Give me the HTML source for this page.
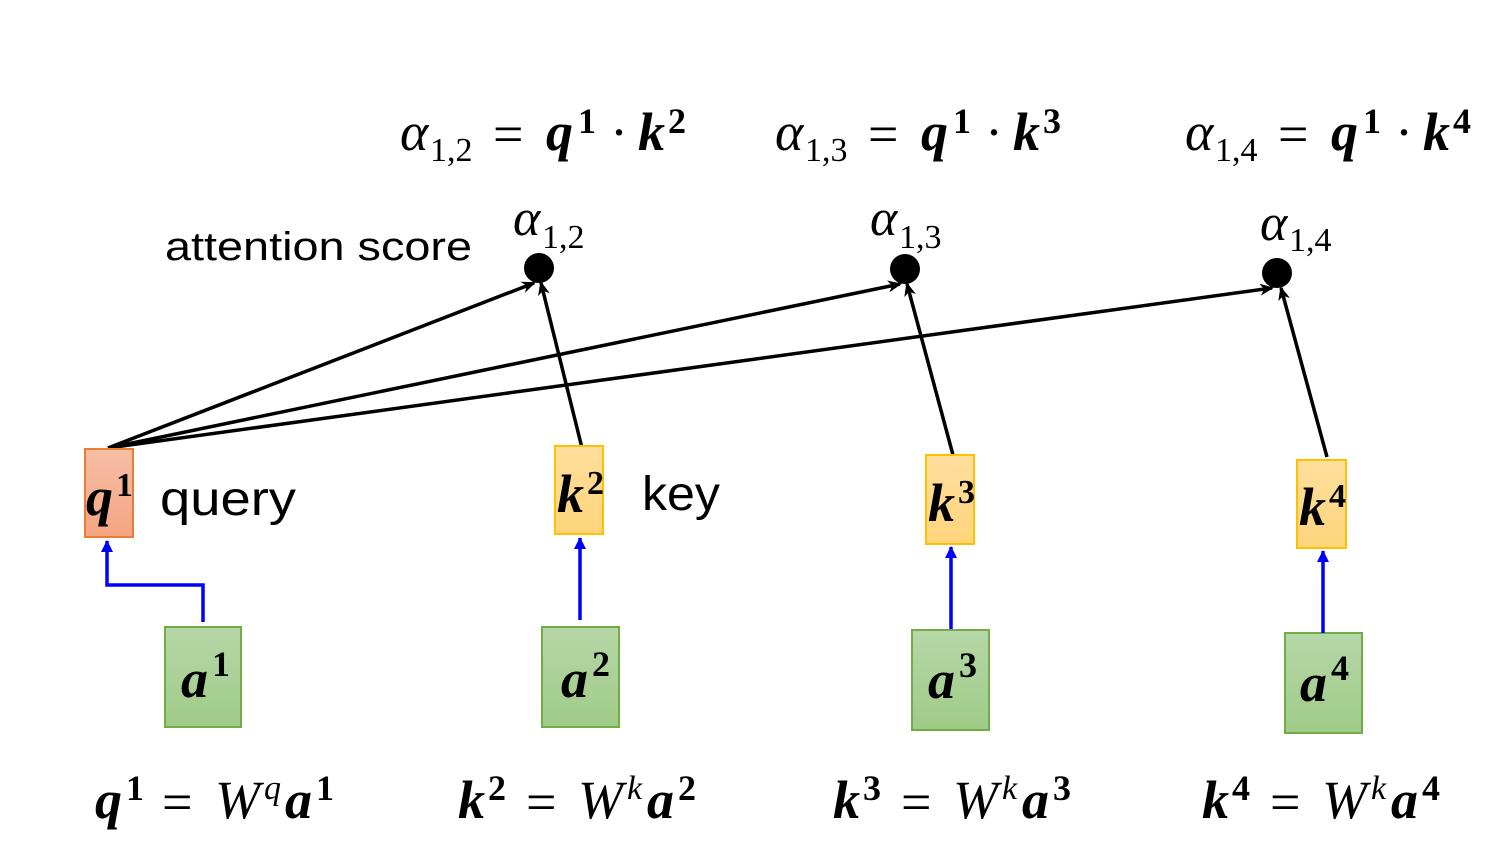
<!DOCTYPE html>
<html><head><meta charset="utf-8"><style>
html,body{margin:0;padding:0;background:#fff;}
svg{display:block;}
.m{font-family:"Liberation Serif",serif;font-style:italic;}
.b{font-family:"Liberation Serif",serif;font-style:italic;font-weight:bold;}
.r{font-family:"Liberation Serif",serif;}
.s{font-family:"Liberation Sans",sans-serif;}
</style></head><body>
<svg width="1497" height="863" viewBox="0 0 1497 863" xmlns="http://www.w3.org/2000/svg">
<defs>
<linearGradient id="go" x1="0" y1="0" x2="0" y2="1"><stop offset="0" stop-color="#f6bea6"/><stop offset="1" stop-color="#f4a582"/></linearGradient>
<linearGradient id="gy" x1="0" y1="0" x2="0" y2="1"><stop offset="0" stop-color="#ffdf9e"/><stop offset="1" stop-color="#ffd47c"/></linearGradient>
<linearGradient id="gg" x1="0" y1="0" x2="0" y2="1"><stop offset="0" stop-color="#b6d7a8"/><stop offset="1" stop-color="#9fcb87"/></linearGradient>
<marker id="ab" markerWidth="14" markerHeight="12" refX="12" refY="6" orient="auto" markerUnits="userSpaceOnUse"><path d="M0,0 L14,6 L0,12 L4,6 z" fill="#000"/></marker>
<marker id="bb" markerWidth="12" markerHeight="12" refX="11" refY="6" orient="auto" markerUnits="userSpaceOnUse"><path d="M0,0 L12,6 L0,12 z" fill="#0000ff"/></marker>
</defs>

<!-- top equations -->
<g font-size="54">
<text x="400" y="150" class="m">α</text><text x="430" y="161" class="r" font-size="34">1,2</text><text x="493" y="152" class="r">=</text><text x="546" y="150" class="b">q</text><text x="578" y="133" class="r" font-weight="bold" font-size="36">1</text><text x="610" y="150" class="r">·</text><text x="638" y="150" class="b">k</text><text x="668" y="133" class="r" font-weight="bold" font-size="36">2</text>
<text x="775" y="150" class="m">α</text><text x="805" y="161" class="r" font-size="34">1,3</text><text x="868" y="152" class="r">=</text><text x="921" y="150" class="b">q</text><text x="953" y="133" class="r" font-weight="bold" font-size="36">1</text><text x="985" y="150" class="r">·</text><text x="1013" y="150" class="b">k</text><text x="1043" y="133" class="r" font-weight="bold" font-size="36">3</text>
<text x="1185" y="150" class="m">α</text><text x="1215" y="161" class="r" font-size="34">1,4</text><text x="1278" y="152" class="r">=</text><text x="1331" y="150" class="b">q</text><text x="1363" y="133" class="r" font-weight="bold" font-size="36">1</text><text x="1395" y="150" class="r">·</text><text x="1423" y="150" class="b">k</text><text x="1453" y="133" class="r" font-weight="bold" font-size="36">4</text>
</g>

<!-- dot labels -->
<text x="513" y="235" class="m" font-size="52">α</text><text x="542" y="248" class="r" font-size="34">1,2</text>
<text x="870" y="235" class="m" font-size="52">α</text><text x="899" y="248" class="r" font-size="34">1,3</text>
<text x="1260" y="240" class="m" font-size="52">α</text><text x="1289" y="251" class="r" font-size="34">1,4</text>

<text x="165" y="260" class="s" font-size="40" textLength="307" lengthAdjust="spacingAndGlyphs">attention score</text>

<!-- black lines -->
<g stroke="#000" stroke-width="3.5" fill="none">
<line x1="108" y1="448" x2="534" y2="283" marker-end="url(#ab)"/>
<line x1="108" y1="448" x2="900" y2="284" marker-end="url(#ab)"/>
<line x1="108" y1="448" x2="1272" y2="288" marker-end="url(#ab)"/>
<line x1="583" y1="452" x2="541" y2="283" marker-end="url(#ab)"/>
<line x1="953" y1="455" x2="907" y2="284" marker-end="url(#ab)"/>
<line x1="1327" y1="457" x2="1281" y2="288" marker-end="url(#ab)"/>
</g>
<circle cx="539" cy="268" r="15" fill="#000"/>
<circle cx="905" cy="269" r="15" fill="#000"/>
<circle cx="1277" cy="273" r="15" fill="#000"/>

<!-- boxes -->
<rect x="85" y="449" width="48" height="88" fill="url(#go)" stroke="#ed7d31" stroke-width="2"/>
<rect x="555" y="446" width="48" height="88" fill="url(#gy)" stroke="#ffc000" stroke-width="2"/>
<rect x="926" y="455" width="48" height="89" fill="url(#gy)" stroke="#ffc000" stroke-width="2"/>
<rect x="1297" y="460" width="49" height="88" fill="url(#gy)" stroke="#ffc000" stroke-width="2"/>
<rect x="165" y="627" width="76" height="100" fill="url(#gg)" stroke="#70ad47" stroke-width="2"/>
<rect x="542" y="627" width="77" height="100" fill="url(#gg)" stroke="#70ad47" stroke-width="2"/>
<rect x="912" y="630" width="77" height="100" fill="url(#gg)" stroke="#70ad47" stroke-width="2"/>
<rect x="1285" y="633" width="77" height="100" fill="url(#gg)" stroke="#70ad47" stroke-width="2"/>

<!-- box labels -->
<g font-size="54">
<text x="86" y="515" class="b">q</text><text x="116" y="496" class="r" font-weight="bold" font-size="34">1</text>
<text x="557" y="512" class="b">k</text><text x="587" y="494" class="r" font-weight="bold" font-size="34">2</text>
<text x="928" y="521" class="b">k</text><text x="958" y="503" class="r" font-weight="bold" font-size="34">3</text>
<text x="1299" y="525" class="b">k</text><text x="1329" y="507" class="r" font-weight="bold" font-size="34">4</text>
<text x="181" y="697" class="b">a</text><text x="212" y="676" class="r" font-weight="bold" font-size="36">1</text>
<text x="561" y="697" class="b">a</text><text x="592" y="676" class="r" font-weight="bold" font-size="36">2</text>
<text x="928" y="698" class="b">a</text><text x="959" y="677" class="r" font-weight="bold" font-size="36">3</text>
<text x="1300" y="701" class="b">a</text><text x="1331" y="680" class="r" font-weight="bold" font-size="36">4</text>
</g>

<text x="160" y="515" class="s" font-size="48" textLength="136" lengthAdjust="spacingAndGlyphs">query</text>
<text x="642" y="510" class="s" font-size="48" textLength="78" lengthAdjust="spacingAndGlyphs">key</text>

<!-- blue arrows -->
<g stroke="#0000ff" stroke-width="3.5" fill="none">
<polyline points="203,622 203,585 107,585 107,541" marker-end="url(#bb)"/>
<line x1="580" y1="620" x2="580" y2="538" marker-end="url(#bb)"/>
<line x1="951" y1="629" x2="951" y2="547" marker-end="url(#bb)"/>
<line x1="1323" y1="633" x2="1323" y2="551" marker-end="url(#bb)"/>
</g>

<!-- bottom equations -->
<g font-size="54">
<text x="95" y="818" class="b">q</text><text x="126" y="800" class="r" font-weight="bold" font-size="36">1</text><text x="162" y="820" class="r">=</text><text x="215" y="818" class="m">W</text><text x="264" y="799" class="m" font-size="34">q</text><text x="285" y="818" class="b">a</text><text x="316" y="800" class="r" font-weight="bold" font-size="36">1</text>
<text x="458" y="818" class="b">k</text><text x="488" y="800" class="r" font-weight="bold" font-size="36">2</text><text x="526" y="820" class="r">=</text><text x="578" y="818" class="m">W</text><text x="627" y="799" class="m" font-size="34">k</text><text x="647" y="818" class="b">a</text><text x="678" y="800" class="r" font-weight="bold" font-size="36">2</text>
<text x="833" y="818" class="b">k</text><text x="863" y="800" class="r" font-weight="bold" font-size="36">3</text><text x="901" y="820" class="r">=</text><text x="953" y="818" class="m">W</text><text x="1002" y="799" class="m" font-size="34">k</text><text x="1022" y="818" class="b">a</text><text x="1053" y="800" class="r" font-weight="bold" font-size="36">3</text>
<text x="1202" y="818" class="b">k</text><text x="1232" y="800" class="r" font-weight="bold" font-size="36">4</text><text x="1270" y="820" class="r">=</text><text x="1322" y="818" class="m">W</text><text x="1371" y="799" class="m" font-size="34">k</text><text x="1391" y="818" class="b">a</text><text x="1422" y="800" class="r" font-weight="bold" font-size="36">4</text>
</g>
</svg>
</body></html>
